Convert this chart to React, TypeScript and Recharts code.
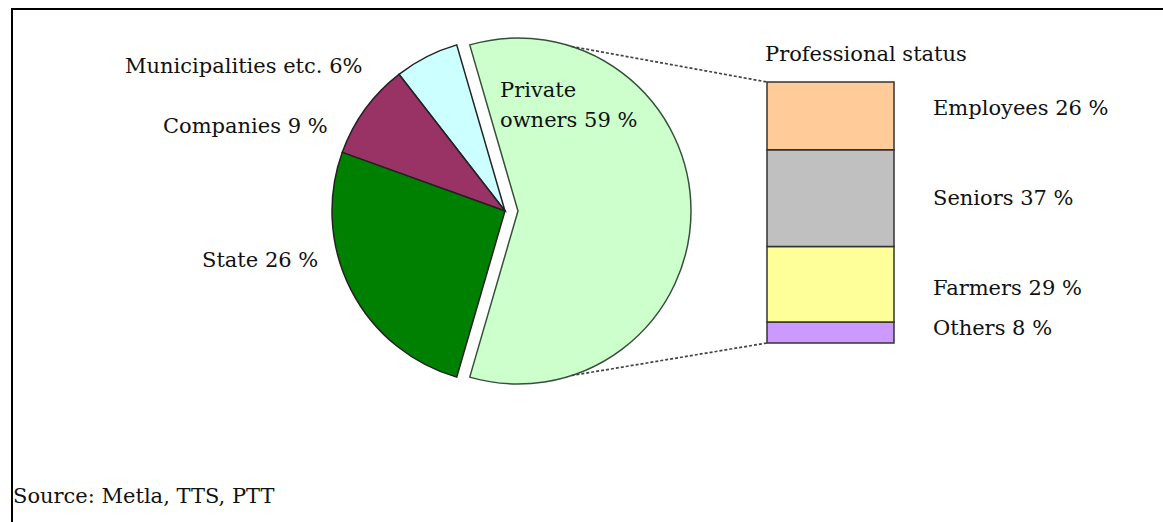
import React from 'react';
import { PieChart, Pie, Cell, BarChart, Bar, XAxis, YAxis } from 'recharts';

// ---- data ----
const ownerNames = ['Private owners', 'Municipalities etc.', 'Companies', 'State'];
const ownerShares = [59, 6, 9, 26];
const ownerLabels = ['Private owners 59 %', 'Municipalities etc. 6%', 'Companies 9 %', 'State 26 %'];

const statusNames = ['Others', 'Farmers', 'Seniors', 'Employees'];
const statusShares = [8, 29, 37, 26];
const statusLabels = ['Others 8 %', 'Farmers 29 %', 'Seniors 37 %', 'Employees 26 %'];

const chartTitle = 'Professional status';
const sourceNote = 'Source: Metla, TTS, PTT';

// ---- styles / layout ----
const ownerColors = ['#CCFFCC', '#CCFFFF', '#993366', '#008000'];
const statusColors = ['#CC99FF', '#FFFF99', '#C0C0C0', '#FFCC99'];

const W = 1163;
const H = 522;
const PIE_CX = 505;
const PIE_CY = 211;
const PIE_R = 173;
const EXPLODE = 13;
const CONNECT_ANGLE = 72;

const BAR_X = 767;
const BAR_TOP = 82;
const BAR_W = 127;
const BAR_H = 261;
const PAD = 10;

const FONT = '"DejaVu Serif", serif';
const FS = 21;

// label positions (layout)
const ownerLabelPos = [
  { x: 500, y: 97 },
  { x: 125, y: 73 },
  { x: 163, y: 133 },
  { x: 202, y: 267 },
];
const statusLabelPos = [
  { x: 933, y: 335 },
  { x: 933, y: 295 },
  { x: 933, y: 205 },
  { x: 933, y: 115 },
];

const pieData = ownerNames.map((name, i) => ({ name, value: ownerShares[i] }));
const barRow: Record<string, string | number> = { cat: ownerNames[0] };
statusNames.forEach((n, i) => {
  barRow[n] = statusShares[i];
});
const barData = [barRow];

const totalOwners = ownerShares.reduce((a, b) => a + b, 0);
const privateSpan = (ownerShares[0] / totalOwners) * 360;
const START = -privateSpan / 2;
const END = START + 360;

export default function App() {
  const rad = (CONNECT_ANGLE * Math.PI) / 180;
  const pcx = PIE_CX + EXPLODE;
  const topStart = { x: pcx + PIE_R * Math.cos(rad), y: PIE_CY - PIE_R * Math.sin(rad) };
  const botStart = { x: pcx + PIE_R * Math.cos(rad), y: PIE_CY + PIE_R * Math.sin(rad) };
  const privWords = ownerLabels[0].split(' ');
  return (
    <div style={{ position: 'absolute', left: 0, top: 0, width: W, height: H, background: '#fff', overflow: 'hidden' }}>
      <div style={{ position: 'absolute', left: 0, top: 0 }}>
        <PieChart width={W} height={H} margin={{ top: 0, right: 0, bottom: 0, left: 0 }}>
          <Pie
            data={pieData}
            dataKey="value"
            nameKey="name"
            cx={PIE_CX}
            cy={PIE_CY}
            outerRadius={PIE_R}
            innerRadius={0}
            startAngle={START}
            endAngle={END}
            isAnimationActive={false}
            label={false}
            labelLine={false}
          >
            {pieData.map((d, i) => (
              <Cell
                key={d.name}
                fill={i === 0 ? 'none' : ownerColors[i]}
                stroke={i === 0 ? 'none' : '#222'}
                strokeWidth={1.5}
              />
            ))}
          </Pie>
          <Pie
            data={pieData}
            dataKey="value"
            nameKey="name"
            cx={PIE_CX + EXPLODE}
            cy={PIE_CY}
            outerRadius={PIE_R}
            innerRadius={0}
            startAngle={START}
            endAngle={END}
            isAnimationActive={false}
            label={false}
            labelLine={false}
          >
            {pieData.map((d, i) => (
              <Cell
                key={d.name}
                fill={i === 0 ? ownerColors[0] : 'none'}
                stroke={i === 0 ? '#35503a' : 'none'}
                strokeWidth={1.5}
              />
            ))}
          </Pie>
        </PieChart>
      </div>
      <div style={{ position: 'absolute', left: BAR_X - PAD, top: BAR_TOP - PAD }}>
        <BarChart
          width={BAR_W + 2 * PAD}
          height={BAR_H + 2 * PAD}
          data={barData}
          margin={{ top: PAD, right: PAD, bottom: PAD, left: PAD }}
          barCategoryGap={0}
          barGap={0}
        >
          <XAxis dataKey="cat" type="category" hide />
          <YAxis type="number" domain={[0, 100]} hide />
          {statusNames.map((n, i) => (
            <Bar
              key={n}
              dataKey={n}
              stackId="s"
              fill={statusColors[i]}
              stroke="#333"
              strokeWidth={1.5}
              isAnimationActive={false}
            />
          ))}
        </BarChart>
      </div>
      <svg
        width={W}
        height={H}
        style={{ position: 'absolute', left: 0, top: 0, pointerEvents: 'none' }}
      >
        <line x1={11} y1={9} x2={W} y2={9} stroke="#000" strokeWidth={2} />
        <line x1={12} y1={8} x2={12} y2={H} stroke="#000" strokeWidth={2} />
        <line
          x1={topStart.x}
          y1={topStart.y}
          x2={BAR_X}
          y2={BAR_TOP}
          stroke="#444"
          strokeWidth={1.7}
          strokeDasharray="3 2"
        />
        <line
          x1={botStart.x}
          y1={botStart.y}
          x2={BAR_X}
          y2={BAR_TOP + BAR_H}
          stroke="#444"
          strokeWidth={1.7}
          strokeDasharray="3 2"
        />
        <g fontFamily={FONT} fontSize={FS} fill="#111">
          <text x={ownerLabelPos[0].x} y={ownerLabelPos[0].y}>{privWords[0]}</text>
          <text x={ownerLabelPos[0].x} y={ownerLabelPos[0].y + 30}>{privWords.slice(1).join(' ')}</text>
          {ownerLabels.slice(1).map((t, i) => (
            <text key={t} x={ownerLabelPos[i + 1].x} y={ownerLabelPos[i + 1].y}>{t}</text>
          ))}
          {statusLabels.map((t, i) => (
            <text key={t} x={statusLabelPos[i].x} y={statusLabelPos[i].y}>{t}</text>
          ))}
          <text x={765} y={61}>{chartTitle}</text>
          <text x={13} y={503}>{sourceNote}</text>
        </g>
      </svg>
    </div>
  );
}
